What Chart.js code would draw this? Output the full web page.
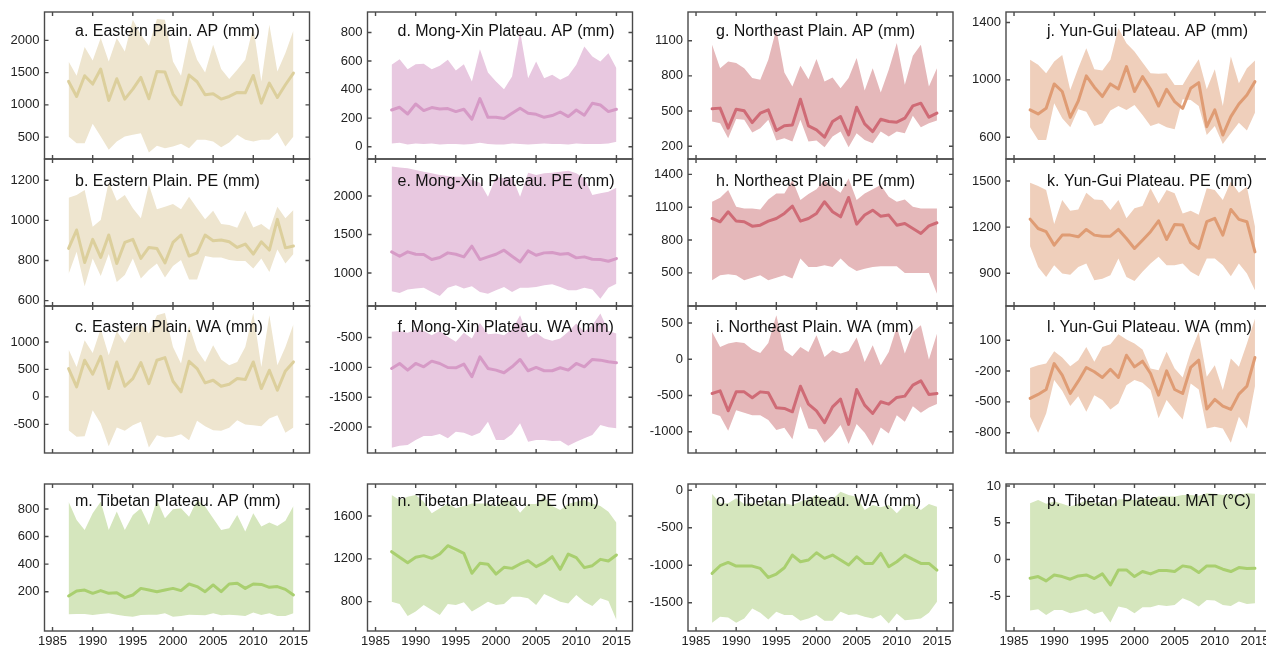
<!DOCTYPE html>
<html>
<head>
<meta charset="utf-8">
<script src="https://cdn.jsdelivr.net/npm/chart.js@4.4.1/dist/chart.umd.min.js"></script>
<style>
  html, body { margin: 0; padding: 0; background: #fff; width: 1266px; height: 646px; overflow: hidden; position: relative; }
  canvas { position: absolute; }
</style>
</head>
<body>
<script>
// Years and x-axis ticks shared by every panel
const years = [1987,1988,1989,1990,1991,1992,1993,1994,1995,1996,1997,1998,1999,2000,2001,2002,2003,2004,2005,2006,2007,2008,2009,2010,2011,2012,2013,2014,2015];
const xTicks = [1985,1990,1995,2000,2005,2010,2015];

// a. Eastern Plain, AP (mm)
const aMean = [1363,1130,1451,1322,1555,1068,1405,1089,1244,1425,1094,1518,1508,1167,1001,1462,1358,1156,1172,1089,1130,1192,1187,1456,1027,1337,1115,1312,1493];
const aHigh = [1674,1451,1896,1689,2036,1674,2036,1829,2321,2088,1917,2331,2321,1674,1451,2062,1700,1503,1933,1555,1400,1544,1700,2217,1363,2243,1518,1803,2155];
const aLow  = [509,406,406,706,509,302,432,509,535,561,261,364,328,354,395,328,457,457,432,344,416,535,457,432,457,457,571,354,509];
const aTicks = [500,1000,1500,2000];

// b. Eastern Plain, PE (mm)
const bMean = [860,952,790,905,815,927,785,890,905,810,865,860,788,890,927,822,838,927,898,902,893,865,882,832,893,852,1005,863,872];
const bHigh = [1113,1127,1152,968,1002,1193,1098,1127,1060,1010,1177,1055,1068,1082,1055,1118,1060,1005,1048,982,977,963,1048,965,982,952,1068,1010,1052];
const bLow  = [732,843,672,810,722,832,693,727,810,710,752,785,715,772,802,705,705,822,815,815,802,798,798,760,810,743,855,785,832];
const bTicks = [600,800,1000,1200];

// c. Eastern Plain, WA (mm)
const cMean = [515,182,667,412,739,152,636,194,333,624,242,667,715,285,91,648,515,255,303,194,230,333,315,636,152,485,121,473,636];
const cHigh = [861,546,1030,800,1242,758,1200,982,1242,1333,1152,1485,1527,909,606,1303,848,636,939,679,576,636,909,1527,546,1485,576,909,1321];
const cLow  = [-606,-727,-715,-242,-485,-897,-557,-618,-515,-455,-921,-697,-739,-727,-679,-788,-436,-533,-606,-618,-564,-424,-503,-515,-533,-394,-333,-655,-557];
const cTicks = [-500,0,500,1000];

// d. Mong-Xin Plateau, AP (mm)
const dMean = [257,276,229,299,253,274,264,267,246,262,192,337,206,206,197,234,269,234,227,206,218,243,211,257,220,304,292,246,262];
const dHigh = [573,613,543,578,580,543,566,608,533,578,456,683,519,456,402,491,807,480,597,480,503,468,496,573,702,632,597,655,550];
const dLow  = [23,28,16,23,19,23,16,19,19,16,19,28,19,16,16,23,19,16,19,23,19,19,16,23,19,19,19,23,35];
const dTicks = [0,200,400,600,800];

// e. Mong-Xin Plateau, PE (mm)
const eMean = [1274,1217,1274,1243,1239,1174,1200,1261,1243,1209,1348,1174,1209,1243,1296,1217,1143,1287,1230,1261,1265,1243,1252,1196,1209,1178,1174,1152,1187];
const eHigh = [2383,2370,2361,2339,2317,2296,2274,2261,2252,2252,2209,2174,1991,2252,2230,2252,1991,2304,2274,2296,2304,2317,2330,2296,2230,2013,2035,2057,2109];
const eLow  = [761,739,783,796,809,752,700,809,839,796,826,752,730,774,817,752,809,809,817,839,852,817,774,774,809,783,665,809,861];
const eTicks = [1000,1500,2000];

// f. Mong-Xin Plateau, WA (mm)
const fMean = [-1018,-935,-1046,-935,-991,-896,-935,-1002,-1007,-946,-1158,-823,-1018,-1046,-1091,-991,-868,-1057,-1002,-1057,-1057,-1007,-1046,-935,-991,-868,-879,-907,-924];
const fHigh = [-405,-389,-422,-366,-389,-461,-389,-489,-572,-422,-517,-255,-444,-433,-461,-366,-127,-500,-422,-517,-556,-517,-405,-266,-405,-294,-99,-389,-433];
const fLow  = [-2345,-2312,-2300,-2217,-2150,-2150,-2117,-2189,-2077,-2094,-2150,-2094,-1910,-2217,-2217,-2122,-1938,-2245,-2217,-2217,-2234,-2228,-2312,-2245,-2189,-2133,-1966,-2005,-2022];
const fTicks = [-2000,-1500,-1000,-500];

// g. Northeast Plain, AP (mm)
const gMean = [519,525,354,516,502,402,482,510,334,374,382,601,374,339,277,411,453,297,533,391,325,430,411,405,439,544,567,448,482];
const gHigh = [1066,866,923,909,866,781,767,938,1200,829,710,886,772,943,752,787,695,781,952,675,866,658,852,1080,724,972,1066,710,866];
const gLow  = [411,396,268,433,425,317,354,425,248,268,240,425,240,248,191,282,325,191,311,254,225,325,282,325,311,459,362,396,419];
const gTicks = [200,500,800,1100];

// h. Northeast Plain, PE (mm)
const hMean = [997,967,1058,973,967,927,936,973,997,1043,1110,973,997,1043,1150,1058,1012,1189,945,1028,1073,1018,1028,936,951,906,860,930,958];
const hHigh = [1150,1186,1257,1104,1089,1089,1080,1171,1226,1226,1348,1165,1220,1263,1348,1281,1232,1363,1165,1226,1263,1302,1196,1150,1171,1104,1089,1089,1089];
const hLow  = [433,478,487,478,433,457,478,433,457,478,448,631,555,555,570,555,631,561,518,539,555,561,561,561,500,500,500,500,310];
const hTicks = [500,800,1100,1400];

// i. Northeast Plain, WA (mm)
const iMean = [-472,-436,-711,-450,-450,-532,-450,-463,-670,-679,-725,-372,-619,-711,-876,-656,-550,-899,-417,-633,-748,-587,-619,-527,-509,-358,-298,-486,-472];
const iHigh = [376,170,216,239,225,133,87,225,606,124,41,170,101,330,32,124,78,115,298,-37,193,-83,101,445,78,376,468,-5,353];
const iLow  = [-748,-784,-986,-702,-738,-771,-771,-839,-977,-945,-1105,-647,-954,-968,-1151,-1046,-908,-1170,-894,-1014,-1193,-940,-1023,-771,-862,-647,-738,-665,-619];
const iTicks = [-1000,-500,0,500];

// j. Yun-Gui Plateau, AP (mm)
const jMean = [791,763,802,972,919,739,853,1028,949,884,972,937,1093,919,1023,935,818,935,849,802,942,981,674,791,616,744,832,895,988];
const jHigh = [1140,1105,1046,1128,1174,930,1081,1221,1074,1065,1140,1360,1256,1198,1121,1046,1042,1046,965,965,1058,1144,935,1074,818,1163,977,1081,1135];
const jLow  = [670,581,581,837,732,670,795,779,679,698,786,818,791,826,756,679,698,670,656,865,860,818,616,679,553,628,702,647,772];
const jTicks = [600,1000,1400];

// k. Yun-Gui Plateau, PE (mm)
const kMean = [1252,1191,1170,1083,1148,1148,1137,1185,1148,1141,1141,1185,1126,1061,1115,1170,1241,1120,1217,1213,1098,1061,1235,1257,1148,1315,1250,1235,1039];
const kHigh = [1489,1467,1441,1220,1376,1307,1315,1424,1380,1376,1311,1376,1257,1322,1337,1452,1354,1441,1420,1289,1307,1280,1452,1441,1376,1496,1424,1463,1204];
const kLow  = [1076,941,876,952,898,891,941,963,854,865,887,996,876,850,909,963,1007,952,952,963,909,880,996,996,952,880,963,898,789];
const kTicks = [900,1200,1500];

// l. Yun-Gui Plateau, WA (mm)
const lMean = [-466,-427,-379,-127,-240,-418,-298,-165,-207,-262,-182,-262,-46,-159,-104,-224,-434,-198,-379,-418,-165,-94,-570,-476,-541,-573,-424,-347,-68];
const lHigh = [-169,-143,-127,-7,-68,-152,-94,35,-110,35,61,158,106,68,9,-175,-191,-13,-175,-262,-13,181,-256,-143,-385,-78,-159,68,310];
const lLow  = [-644,-800,-612,-288,-392,-541,-444,-596,-434,-482,-573,-515,-337,-288,-314,-385,-660,-482,-580,-670,-321,-379,-758,-741,-758,-897,-644,-758,-347];
const lTicks = [-800,-500,-200,100];

// m. Tibetan Plateau, AP (mm)
const mMean = [169,205,212,188,208,188,193,157,176,224,212,200,212,224,208,256,237,200,249,200,256,261,224,256,253,232,237,217,176];
const mHigh = [853,720,648,769,853,648,781,648,756,805,684,865,732,798,805,744,865,817,732,648,660,756,636,769,672,701,677,715,822];
const mLow  = [36,38,38,31,38,43,33,24,19,31,33,33,43,19,24,33,31,29,43,29,33,29,24,50,31,43,24,24,43];
const mTicks = [200,400,600,800];

// n. Tibetan Plateau, PE (mm)
const nMean = [1267,1214,1164,1214,1230,1205,1245,1323,1289,1251,1065,1158,1149,1058,1121,1111,1152,1183,1127,1164,1220,1102,1245,1211,1118,1136,1195,1180,1236];
const nHigh = [1796,1749,1781,1796,1734,1625,1672,1718,1672,1693,1718,1718,1718,1687,1749,1734,1631,1712,1712,1781,1693,1656,1712,1734,1749,1718,1693,1640,1538];
const nLow  = [800,778,666,707,769,722,675,778,769,794,707,753,800,769,778,847,847,831,769,872,837,800,784,862,800,759,831,806,629];
const nTicks = [800,1200,1600];

// o. Tibetan Plateau, WA (mm)
const oMean = [-1109,-1006,-962,-1011,-1011,-1011,-1042,-1162,-1117,-1033,-864,-953,-930,-833,-908,-864,-930,-997,-886,-975,-975,-841,-1020,-953,-864,-922,-975,-975,-1064];
const oHigh = [-49,-174,-174,-107,-183,-174,-196,-129,-183,-174,-196,-151,-120,-62,-129,-120,-18,-62,-85,-263,-196,-227,-196,-307,-196,-183,-263,-183,-218];
const oLow  = [-1767,-1687,-1696,-1767,-1710,-1576,-1634,-1723,-1621,-1665,-1665,-1741,-1710,-1665,-1741,-1741,-1621,-1665,-1652,-1687,-1710,-1665,-1776,-1643,-1732,-1723,-1710,-1634,-1487];
const oTicks = [-1500,-1000,-500,0];

// p. Tibetan Plateau, MAT (°C)
const pMean = [-2.54,-2.31,-2.90,-2.09,-2.31,-2.67,-2.22,-2.09,-2.58,-1.95,-3.45,-1.41,-1.41,-2.31,-1.63,-1.95,-1.50,-1.50,-1.63,-0.86,-1.04,-1.77,-0.86,-0.86,-1.31,-1.63,-1.09,-1.22,-1.18];
const pHigh = [7.66,8.11,7.57,7.89,7.57,7.21,7.57,8.02,7.66,7.89,7.21,8.20,8.20,8.11,8.34,8.20,8.57,8.57,8.57,8.79,8.79,8.66,9.02,8.93,8.79,8.93,8.79,9.02,8.93];
const pLow  = [-6.94,-6.75,-7.52,-6.84,-6.84,-7.30,-7.07,-6.75,-7.39,-7.07,-8.57,-6.39,-6.62,-7.30,-6.48,-6.48,-6.16,-6.30,-6.16,-5.26,-5.71,-6.39,-5.49,-5.58,-6.16,-6.30,-5.71,-6.03,-5.94];
const pTicks = [-5,0,5,10];

// Region colours: [band fill, mean line]
const BEIGE = ['#eee5cf', '#dccf9c'];
const PINK  = ['#e8c8e0', '#d69ac6'];
const RED   = ['#e5b8ba', '#cf6b76'];
const PEACH = ['#efcfbb', '#df9c74'];
const GREEN = ['#d5e6bd', '#a9cf6f'];

// Grid geometry (page pixels)
const COL_LEFT = [44.5, 367.5, 688, 1006];
const ROW_TOP = [12, 159, 306, 484];
const BOX_W = 265;
const BOX_H = 147;
const TITLE_DX = [30.5, 30, 28, 41];
const TITLE_CAP = [12, 15.5, 14.5, 10];
const FONT = '"Liberation Sans", Arial, Helvetica, sans-serif';

const panels = [
  { col: 0, row: 0, title: 'a. Eastern Plain. AP (mm)', mean: aMean, high: aHigh, low: aLow, ticks: aTicks, min: 160, max: 2440, colors: BEIGE },
  { col: 0, row: 1, title: 'b. Eastern Plain. PE (mm)', mean: bMean, high: bHigh, low: bLow, ticks: bTicks, min: 573, max: 1306, colors: BEIGE },
  { col: 0, row: 2, title: 'c. Eastern Plain. WA (mm)', mean: cMean, high: cHigh, low: cLow, ticks: cTicks, min: -1022, max: 1655, colors: BEIGE },
  { col: 0, row: 3, title: 'm. Tibetan Plateau. AP (mm)', mean: mMean, high: mHigh, low: mLow, ticks: mTicks, min: -85, max: 981, colors: GREEN },
  { col: 1, row: 0, title: 'd. Mong-Xin Plateau. AP (mm)', mean: dMean, high: dHigh, low: dLow, ticks: dTicks, min: -86, max: 943, colors: PINK },
  { col: 1, row: 1, title: 'e. Mong-Xin Plateau. PE (mm)', mean: eMean, high: eHigh, low: eLow, ticks: eTicks, min: 570, max: 2482, colors: PINK },
  { col: 1, row: 2, title: 'f. Mong-Xin Plateau. WA (mm)', mean: fMean, high: fHigh, low: fLow, ticks: fTicks, min: -2435, max: 28, colors: PINK },
  { col: 1, row: 3, title: 'n. Tibetan Plateau. PE (mm)', mean: nMean, high: nHigh, low: nLow, ticks: nTicks, min: 526, max: 1899, colors: GREEN },
  { col: 2, row: 0, title: 'g. Northeast Plain. AP (mm)', mean: gMean, high: gHigh, low: gLow, ticks: gTicks, min: 91, max: 1345, colors: RED },
  { col: 2, row: 1, title: 'h. Northeast Plain. PE (mm)', mean: hMean, high: hHigh, low: hLow, ticks: hTicks, min: 198, max: 1540, colors: RED },
  { col: 2, row: 2, title: 'i. Northeast Plain. WA (mm)', mean: iMean, high: iHigh, low: iLow, ticks: iTicks, min: -1293, max: 734, colors: RED },
  { col: 2, row: 3, title: 'o. Tibetan Plateau. WA (mm)', mean: oMean, high: oHigh, low: oLow, ticks: oTicks, min: -1877, max: 84, colors: GREEN },
  { col: 3, row: 0, title: 'j. Yun-Gui Plateau. AP (mm)', mean: jMean, high: jHigh, low: jLow, ticks: jTicks, min: 449, max: 1473, colors: PEACH },
  { col: 3, row: 1, title: 'k. Yun-Gui Plateau. PE (mm)', mean: kMean, high: kHigh, low: kLow, ticks: kTicks, min: 687, max: 1643, colors: PEACH },
  { col: 3, row: 2, title: 'l. Yun-Gui Plateau. WA (mm)', mean: lMean, high: lHigh, low: lLow, ticks: lTicks, min: -997, max: 433, colors: PEACH },
  { col: 3, row: 3, title: 'p. Tibetan Plateau. MAT (°C)', mean: pMean, high: pHigh, low: pLow, ticks: pTicks, min: -9.71, max: 10.27, colors: GREEN }
];

// Box outline, inward tick marks on all four sides, and the panel caption
const framePlugin = {
  id: 'frame',
  afterDatasetsDraw(chart, args, opts) {
    const { ctx, chartArea: a, scales } = chart;
    ctx.save();
    ctx.strokeStyle = '#4a4a4a';
    ctx.lineWidth = 1.4;
    ctx.strokeRect(a.left, a.top, a.right - a.left, a.bottom - a.top);
    const L = 4;
    ctx.beginPath();
    opts.yTicks.forEach(v => {
      const y = scales.y.getPixelForValue(v);
      ctx.moveTo(a.left, y); ctx.lineTo(a.left + L, y);
      ctx.moveTo(a.right, y); ctx.lineTo(a.right - L, y);
    });
    xTicks.forEach(v => {
      const x = scales.x.getPixelForValue(v);
      ctx.moveTo(x, a.top); ctx.lineTo(x, a.top + L);
      ctx.moveTo(x, a.bottom); ctx.lineTo(x, a.bottom - L);
    });
    ctx.stroke();
    ctx.fillStyle = '#111';
    ctx.font = '16px ' + FONT;
    ctx.textBaseline = 'alphabetic';
    ctx.textAlign = 'left';
    ctx.fillText(opts.text, a.left + opts.dx, a.top + opts.cap + 11.5);
    ctx.restore();
  }
};

const pts = vals => years.map((yr, i) => ({ x: yr, y: vals[i] }));

panels.forEach(p => {
  const boxL = COL_LEFT[p.col];
  const boxT = ROW_TOP[p.row];
  const bottomRow = p.row === 3;
  const PAD = 3;
  const canvasL = Math.floor(boxL) - 46;
  const axisW = boxL - canvasL;
  const xAxisH = bottomRow ? 24 : 0;
  const W = Math.ceil(axisW + BOX_W + PAD);
  const H = PAD + BOX_H + (bottomRow ? xAxisH : PAD);

  const canvas = document.createElement('canvas');
  canvas.width = W;
  canvas.height = H;
  canvas.style.width = W + 'px';
  canvas.style.height = H + 'px';
  canvas.style.left = canvasL + 'px';
  canvas.style.top = (boxT - PAD) + 'px';
  document.body.appendChild(canvas);

  new Chart(canvas, {
    type: 'line',
    data: {
      datasets: [
        { data: pts(p.mean), borderColor: p.colors[1], borderWidth: 3, fill: false, pointRadius: 0, borderJoinStyle: 'round', borderCapStyle: 'round' },
        { data: pts(p.high), borderColor: 'rgba(0,0,0,0)', borderWidth: 0, backgroundColor: p.colors[0], fill: '+1', pointRadius: 0 },
        { data: pts(p.low), borderColor: 'rgba(0,0,0,0)', borderWidth: 0, fill: false, pointRadius: 0 }
      ]
    },
    options: {
      responsive: false,
      animation: false,
      devicePixelRatio: 1,
      layout: { padding: { left: 0, top: PAD, right: W - axisW - BOX_W, bottom: bottomRow ? 0 : PAD } },
      elements: { line: { tension: 0 }, point: { radius: 0 } },
      plugins: {
        legend: { display: false },
        tooltip: { enabled: false },
        frame: { text: p.title, dx: TITLE_DX[p.col], cap: TITLE_CAP[p.row], yTicks: p.ticks }
      },
      scales: {
        x: {
          type: 'linear', min: 1984, max: 2017, display: bottomRow,
          grid: { display: false, drawTicks: false },
          border: { display: false },
          ticks: { font: { family: FONT, size: 13 }, color: '#222', padding: 3, maxRotation: 0, autoSkip: false, callback: v => String(v) },
          afterBuildTicks: s => { s.ticks = xTicks.map(v => ({ value: v })); },
          afterFit: s => { s.height = xAxisH; s.paddingLeft = 0; s.paddingRight = 0; s.paddingTop = 0; s.paddingBottom = 0; }
        },
        y: {
          type: 'linear', min: p.min, max: p.max,
          grid: { display: false, drawTicks: false },
          border: { display: false },
          ticks: { font: { family: FONT, size: 13 }, color: '#222', padding: 5, callback: v => String(v) },
          afterBuildTicks: s => { s.ticks = p.ticks.map(v => ({ value: v })); },
          afterFit: s => { s.width = axisW; s.paddingTop = 0; s.paddingBottom = 0; s.paddingLeft = 0; s.paddingRight = 0; }
        }
      }
    },
    plugins: [framePlugin]
  });
});
</script>
</body>
</html>
